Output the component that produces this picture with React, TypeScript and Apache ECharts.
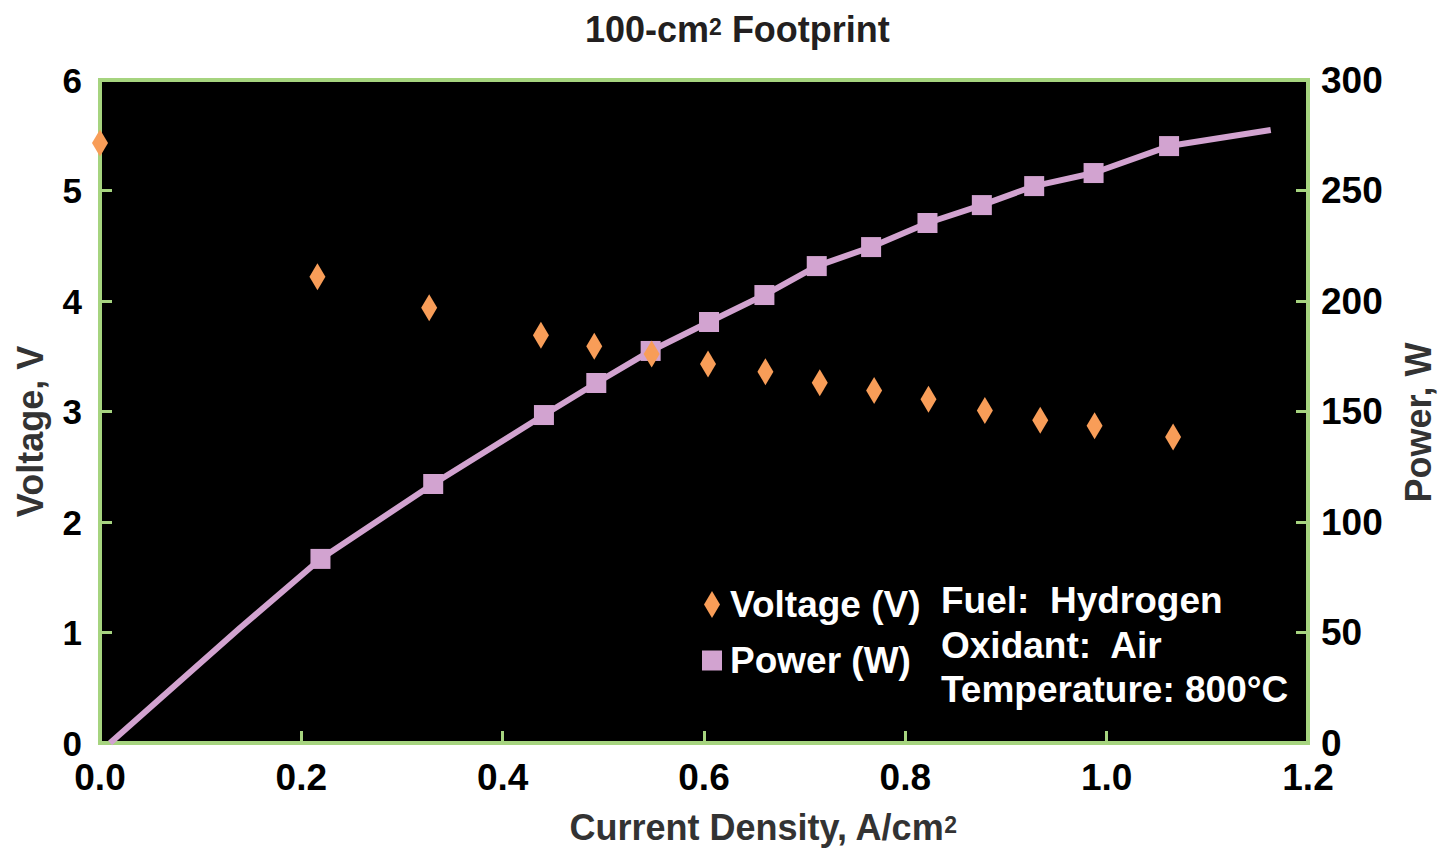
import React, { useEffect, useRef } from "react";
import * as echarts from "echarts";

// Current density (A/cm2) and voltage (V) — orange diamonds
const voltageX = [0.0, 0.216, 0.327, 0.438, 0.491, 0.548, 0.604, 0.661, 0.715, 0.769, 0.823, 0.879, 0.934, 0.988, 1.066];
const voltageY = [5.43, 4.22, 3.94, 3.69, 3.59, 3.52, 3.43, 3.36, 3.26, 3.19, 3.11, 3.01, 2.92, 2.87, 2.77];

// Current density (A/cm2) and power (W) — purple squares
const powerX = [0.219, 0.331, 0.441, 0.493, 0.547, 0.605, 0.66, 0.712, 0.766, 0.822, 0.876, 0.928, 0.987, 1.062];
const powerY = [83.3, 117.2, 148.4, 162.9, 177.4, 190.5, 202.7, 215.8, 224.4, 235.3, 243.4, 252.0, 257.9, 270.1];

// Power fit curve
const curveX = [0.01, 0.139, 0.219, 0.331, 0.441, 0.493, 0.547, 0.605, 0.66, 0.712, 0.766, 0.822, 0.876, 0.928, 0.987, 1.062, 1.163];
const curveY = [0, 52, 83.3, 117.2, 148.4, 162.9, 177.4, 190.5, 202.7, 215.8, 224.4, 235.3, 243.4, 252.0, 257.9, 270.1, 277.4];

const conditions = ["Fuel:  Hydrogen", "Oxidant:  Air", "Temperature: 800°C"];

const FONT = "'Liberation Sans', Arial, sans-serif";
const GREEN = "#A6D47F";
const PURPLE = "#D2A3D0";
const ORANGE = "#F89D58";

export default function App() {
  const ref = useRef<HTMLDivElement>(null);
  useEffect(() => {
    if (!ref.current) return;
    const chart = echarts.init(ref.current, null, { renderer: "svg" });
    const zip = (xs: number[], ys: number[]) => xs.map((x, i) => [x, ys[i]]);
    const tickStyle = { show: true, inside: true, length: 12, lineStyle: { color: GREEN, width: 3 } };
    chart.setOption({
      animation: false,
      backgroundColor: "#ffffff",
      title: {
        text: "{a|100-cm}{b|2}{a| Footprint}",
        left: 580,
        top: 6,
        textStyle: {
          rich: {
            a: { fontFamily: FONT, fontWeight: "bold", fontSize: 36, color: "#231f20" },
            b: { fontFamily: FONT, fontWeight: "bold", fontSize: 23, color: "#231f20", padding: [0, 0, 5, 0] },
          },
        },
      },
      grid: {
        left: 100,
        right: 135,
        top: 80,
        bottom: 107,
        show: true,
        backgroundColor: "#000000",
        borderColor: GREEN,
        borderWidth: 4,
        containLabel: false,
      },
      legend: [
        {
          data: ["Voltage (V)"],
          left: 699,
          top: 581,
          itemWidth: 16,
          itemHeight: 27,
          textStyle: { color: "#ffffff", fontFamily: FONT, fontWeight: "bold", fontSize: 37, padding: [0, 0, 0, 5] },
        },
        {
          data: ["Power (W)"],
          left: 697,
          top: 637,
          itemWidth: 20,
          itemHeight: 20,
          textStyle: { color: "#ffffff", fontFamily: FONT, fontWeight: "bold", fontSize: 37, padding: [0, 0, 0, 3] },
        },
      ],
      graphic: conditions.map((t, i) => ({
        type: "text",
        left: 941,
        top: 582 + i * 44.5,
        style: { text: t, fill: "#ffffff", font: `bold 37px ${FONT}` },
      })),
      xAxis: {
        type: "value",
        min: 0,
        max: 1.2,
        interval: 0.2,
        name: "{a|Current Density, A/cm}{b|2}",
        nameLocation: "middle",
        nameGap: 66,
        nameTextStyle: {
          padding: [0, 0, 0, 118],
          rich: {
            a: { fontFamily: FONT, fontWeight: "bold", fontSize: 36, color: "#333333" },
            b: { fontFamily: FONT, fontWeight: "bold", fontSize: 23, color: "#333333", padding: [0, 0, 5, 0] },
          },
        },
        axisLine: { show: false },
        axisTick: tickStyle,
        splitLine: { show: false },
        axisLabel: {
          margin: 16,
          color: "#000000",
          fontFamily: FONT,
          fontWeight: "bold",
          fontSize: 37,
          formatter: (v: number) => v.toFixed(1),
        },
      },
      yAxis: [
        {
          type: "value",
          min: 0,
          max: 6,
          interval: 1,
          position: "left",
          name: "Voltage, V",
          nameLocation: "middle",
          nameGap: 52,
          nameRotate: 90,
          nameTextStyle: { fontFamily: FONT, fontWeight: "bold", fontSize: 36, color: "#333333", padding: [0, 40, 0, 0] },
          axisLine: { show: false },
          axisTick: tickStyle,
          splitLine: { show: false },
          axisLabel: { margin: 18, color: "#000000", fontFamily: FONT, fontWeight: "bold", fontSize: 35 },
        },
        {
          type: "value",
          min: 0,
          max: 300,
          interval: 50,
          position: "right",
          name: "Power, W",
          nameLocation: "middle",
          nameGap: 92,
          nameRotate: 90,
          nameTextStyle: { fontFamily: FONT, fontWeight: "bold", fontSize: 36, color: "#333333", padding: [0, 22, 0, 0] },
          axisLine: { show: false },
          axisTick: tickStyle,
          splitLine: { show: false },
          axisLabel: { margin: 13, color: "#000000", fontFamily: FONT, fontWeight: "bold", fontSize: 37 },
        },
      ],
      series: [
        {
          name: "Power fit",
          type: "line",
          yAxisIndex: 1,
          data: zip(curveX, curveY),
          showSymbol: false,
          symbol: "none",
          lineStyle: { color: PURPLE, width: 6 },
          z: 2,
        },
        {
          name: "Power (W)",
          type: "scatter",
          yAxisIndex: 1,
          data: zip(powerX, powerY),
          symbol: "rect",
          symbolSize: 20,
          itemStyle: { color: PURPLE, opacity: 1 },
          z: 3,
        },
        {
          name: "Voltage (V)",
          type: "scatter",
          yAxisIndex: 0,
          data: zip(voltageX, voltageY),
          symbol: "diamond",
          symbolSize: [16, 27],
          itemStyle: { color: ORANGE, opacity: 1 },
          clip: false,
          z: 4,
        },
      ],
    });
    return () => chart.dispose();
  }, []);
  return <div ref={ref} style={{ width: 1444, height: 850, position: "absolute", left: 0, top: 0 }} />;
}
